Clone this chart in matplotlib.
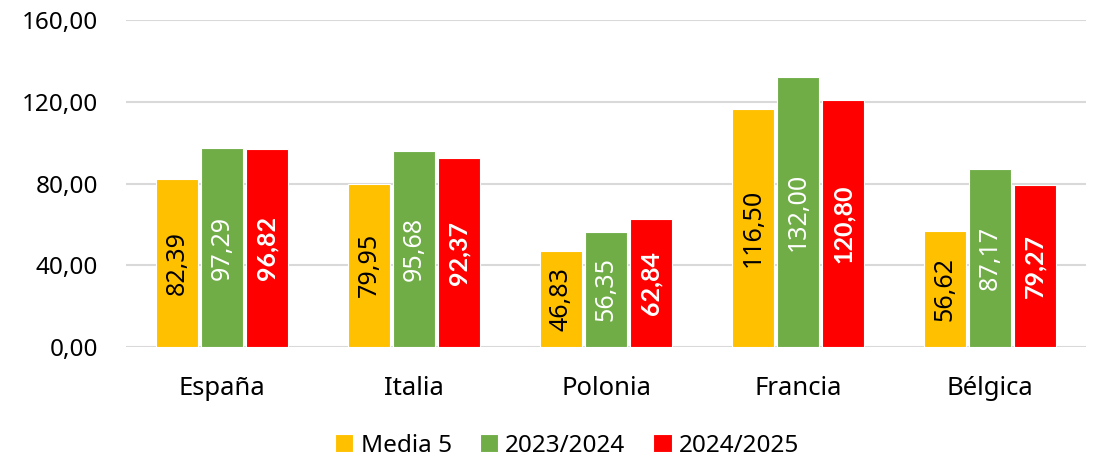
import matplotlib.pyplot as plt
import numpy as np

plt.rcParams['font.family'] = ['Noto Sans', 'DejaVu Sans']

paises = ['España', 'Italia', 'Polonia', 'Francia', 'Bélgica']
media_5 = [82.39, 79.95, 46.83, 116.50, 56.62]
campana_2324 = [97.29, 95.68, 56.35, 132.00, 87.17]
campana_2425 = [96.82, 92.37, 62.84, 120.80, 79.27]

series = [
    ('Media 5', media_5, '#FFC000', 'black', 'normal'),
    ('2023/2024', campana_2324, '#70AD47', 'white', 'normal'),
    ('2024/2025', campana_2425, '#FF0000', 'white', 'bold'),
]


def fmt(v):
    return f'{v:.2f}'.replace('.', ',')


fig = plt.figure(figsize=(10.97, 4.61), dpi=100)
ax = fig.add_axes([0.1149, 0.2473, 0.8751, 0.7093])

x = np.arange(len(paises))
width = 0.215
step = 0.234

for i, (nombre, valores, color, txt_color, weight) in enumerate(series):
    pos = x + (i - 1) * step
    bars = ax.bar(pos, valores, width, color=color, edgecolor='white',
                  linewidth=0.8, label=nombre, zorder=3)
    # bold labels need a family that ships a bold face
    fam = ['Lato', 'Liberation Sans', 'DejaVu Sans'] if weight == 'bold' \
        else ['Noto Sans', 'DejaVu Sans']
    for b, v in zip(bars, valores):
        ax.text(b.get_x() + b.get_width() / 2, v / 2, fmt(v),
                rotation=90, ha='center', va='center', family=fam,
                color=txt_color, fontsize=18, fontweight=weight, zorder=4)

ax.set_xlim(-0.5, len(paises) - 0.5)
ax.set_ylim(0, 160)
ax.set_yticks([0, 40, 80, 120, 160])
ax.set_yticklabels([fmt(t) for t in [0, 40, 80, 120, 160]], fontsize=17.5)
ax.set_xticks(x)
ax.set_xticklabels(paises, fontsize=18.5)
ax.tick_params(axis='both', length=0)
ax.tick_params(axis='y', pad=20)
ax.tick_params(axis='x', pad=21)
ax.grid(axis='y', color='#D9D9D9', linewidth=1.5, zorder=0)
for s in ax.spines.values():
    s.set_visible(False)

fig.legend(loc='center', bbox_to_anchor=(0.517, 0.033), ncol=3, frameon=False,
           fontsize=17.5, handlelength=0.75, handleheight=0.75,
           handletextpad=0.3, columnspacing=1.15)

fig.savefig('out.png', dpi=100)
